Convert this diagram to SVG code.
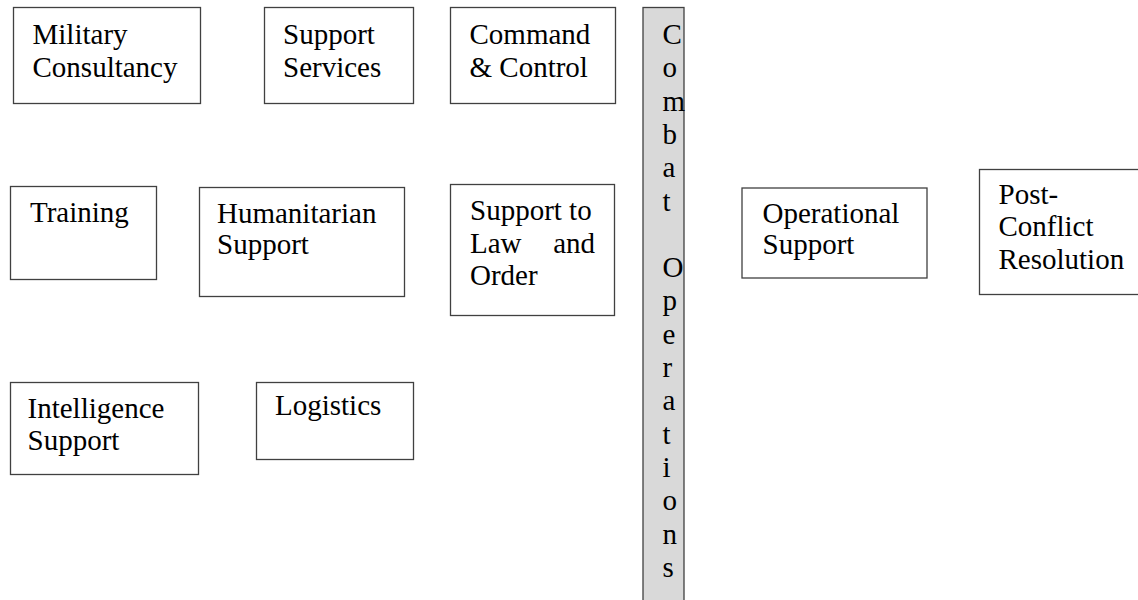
<svg xmlns="http://www.w3.org/2000/svg" width="1138" height="600" viewBox="0 0 1138 600">
<style>
.box{fill:#ffffff;stroke:#404040;stroke-width:1.3}
.bar{fill:#d9d9d9;stroke:#404040;stroke-width:1.3}
.t{font-family:"Liberation Serif","Times New Roman",serif;font-size:29px;fill:#000000}
</style>
<rect width="1138" height="600" fill="#ffffff"/>
<g id="military-consultancy">
<rect class="box" x="13.5" y="7.5" width="187" height="96"/>
<text class="t" x="32.5" y="43.5">Military</text>
<text class="t" x="32.5" y="76.5">Consultancy</text>
</g>
<g id="support-services">
<rect class="box" x="264.5" y="7.5" width="149" height="96"/>
<text class="t" x="283" y="44">Support</text>
<text class="t" x="283" y="77">Services</text>
</g>
<g id="command-control">
<rect class="box" x="450.5" y="7.5" width="165" height="96"/>
<text class="t" x="469.5" y="44">Command</text>
<text class="t" x="469.5" y="77">&amp; Control</text>
</g>
<g id="combat-operations">
<rect class="bar" x="643" y="7.5" width="41" height="600"/>
<text class="t" x="662.5">
<tspan x="662.5" y="44">C</tspan>
<tspan x="662.5" y="77.3">o</tspan>
<tspan x="662.5" y="110.6">m</tspan>
<tspan x="662.5" y="143.9">b</tspan>
<tspan x="662.5" y="177.2">a</tspan>
<tspan x="662.5" y="210.5">t</tspan>
<tspan x="662.5" y="277.1">O</tspan>
<tspan x="662.5" y="310.4">p</tspan>
<tspan x="662.5" y="343.7">e</tspan>
<tspan x="662.5" y="377">r</tspan>
<tspan x="662.5" y="410.3">a</tspan>
<tspan x="662.5" y="443.6">t</tspan>
<tspan x="662.5" y="476.9">i</tspan>
<tspan x="662.5" y="510.2">o</tspan>
<tspan x="662.5" y="543.5">n</tspan>
<tspan x="662.5" y="576.8">s</tspan>
</text>
</g>
<g id="training">
<rect class="box" x="10.5" y="186.5" width="146" height="93"/>
<text class="t" x="30" y="222">Training</text>
</g>
<g id="humanitarian-support">
<rect class="box" x="199.5" y="187.5" width="205" height="109"/>
<text class="t" x="217" y="223">Humanitarian</text>
<text class="t" x="217" y="254">Support</text>
</g>
<g id="support-law-order">
<rect class="box" x="450.5" y="184.5" width="164" height="131"/>
<text class="t" x="470" y="220">Support to</text>
<text class="t" x="470" y="253">Law</text>
<text class="t" x="595" y="253" text-anchor="end">and</text>
<text class="t" x="470" y="284.5">Order</text>
</g>
<g id="operational-support">
<rect class="box" x="742" y="188" width="185" height="90"/>
<text class="t" x="762.5" y="222.5">Operational</text>
<text class="t" x="762.5" y="253.5">Support</text>
</g>
<g id="post-conflict-resolution">
<rect class="box" x="979.5" y="169.5" width="170" height="125"/>
<text class="t" x="998.5" y="203.5">Post-</text>
<text class="t" x="998.5" y="236">Conflict</text>
<text class="t" x="998.5" y="268.5">Resolution</text>
</g>
<g id="intelligence-support">
<rect class="box" x="10.5" y="382.5" width="188" height="92"/>
<text class="t" x="27.5" y="418">Intelligence</text>
<text class="t" x="27.5" y="450">Support</text>
</g>
<g id="logistics">
<rect class="box" x="256.5" y="382.5" width="157" height="77"/>
<text class="t" x="275" y="415">Logistics</text>
</g>
<g id="connectors"></g>
</svg>
